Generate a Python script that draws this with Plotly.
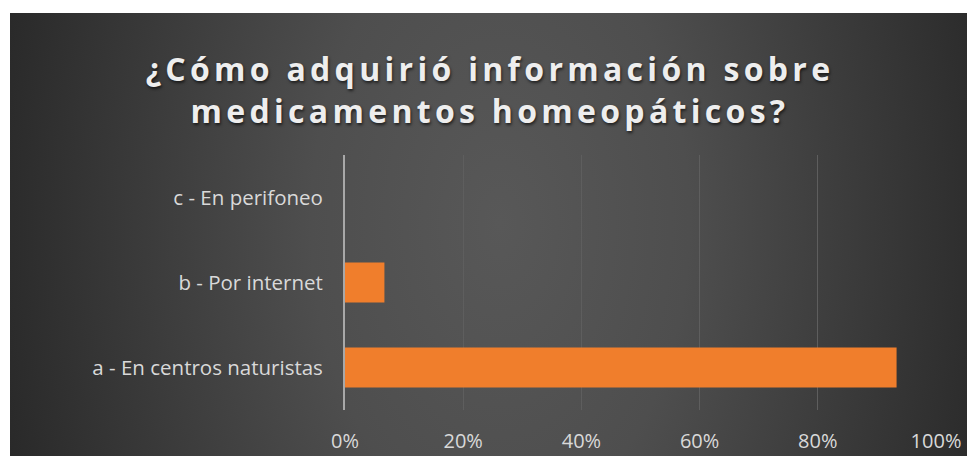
import base64
import plotly.graph_objects as go

categories = ["a - En centros naturistas", "b - Por internet", "c - En perifoneo"]
values = [0.9333, 0.0667, 0.0]
x_tickvals = [0, 0.2, 0.4, 0.6, 0.8, 1.0]
x_ticktext = ["0%", "20%", "40%", "60%", "80%", "100%"]
title_text = "¿Cómo adquirió información sobre<br>medicamentos homeopáticos?"

W, H = 967, 456
L, R, T, B = 345, 31, 155, 46
pw, ph = W - L - R, H - T - B

svg = (
    '<svg xmlns="http://www.w3.org/2000/svg" width="957" height="443" viewBox="0 0 957 443" preserveAspectRatio="none">'
    '<defs><radialGradient id="g" gradientUnits="userSpaceOnUse" cx="490" cy="210" r="540" '
    'gradientTransform="translate(490 210) scale(1 1.6) translate(-490 -210)">'
    '<stop offset="0" stop-color="#585858"/><stop offset="0.35" stop-color="#4e4e4e"/>'
    '<stop offset="1" stop-color="#262626"/></radialGradient></defs>'
    '<rect width="957" height="443" fill="url(#g)"/></svg>'
)
src = "data:image/svg+xml;base64," + base64.b64encode(svg.encode()).decode()

bx0, by0, bx1, by1 = 10, 13, 967, 456
img = dict(
    source=src, xref="paper", yref="paper",
    x=(bx0 - L) / pw, y=(H - B - by0) / ph,
    sizex=(bx1 - bx0) / pw, sizey=(by1 - by0) / ph,
    xanchor="left", yanchor="top", sizing="stretch", layer="below",
)

fig = go.Figure(go.Bar(
    x=values, y=categories, orientation="h",
    marker=dict(color="#F07E2C", line=dict(width=0)),
    width=0.47,
))

fig.update_layout(
    width=W, height=H,
    margin=dict(l=L, r=R, t=T, b=B, pad=0, autoexpand=False),
    paper_bgcolor="white",
    plot_bgcolor="rgba(0,0,0,0)",
    images=[img],
    showlegend=False,
    title=dict(
        text=title_text, xref="container", yref="container",
        x=490 / W, xanchor="center", y=(H - 81) / H, yanchor="top",
        font=dict(family="Open Sans", size=32, color="#eeeeee", weight="bold",
                  shadow="1px 2px 3px rgba(0,0,0,0.6)"),
    ),
    xaxis=dict(
        range=[0, 1], tickvals=x_tickvals, ticktext=x_ticktext,
        showgrid=True, gridcolor="#5e5e5e", gridwidth=1,
        zeroline=False, showline=False, automargin=False,
        tickfont=dict(family="Open Sans", size=20, color="#d9d9d9"),
        ticks="", ticklabelstandoff=17,
    ),
    yaxis=dict(
        categoryorder="array", categoryarray=categories,
        showgrid=False, zeroline=False, automargin=False,
        showline=True, linecolor="#a8a8a8", linewidth=2,
        tickfont=dict(family="Open Sans", size=20.5, color="#d9d9d9"),
        ticks="", ticklabelstandoff=16,
    ),
)

post = (
    "document.documentElement.style.margin='0';"
    "document.documentElement.style.padding='0';"
    "document.documentElement.style.overflow='hidden';"
    "document.body.style.margin='0';"
    "document.body.style.padding='0';"
    "document.body.style.overflow='hidden';"
    "document.querySelectorAll('.gtitle').forEach(function(t){t.style.letterSpacing='4.3px';});"
)
fig.write_html("out.html", post_script=post, config={"displayModeBar": False})
